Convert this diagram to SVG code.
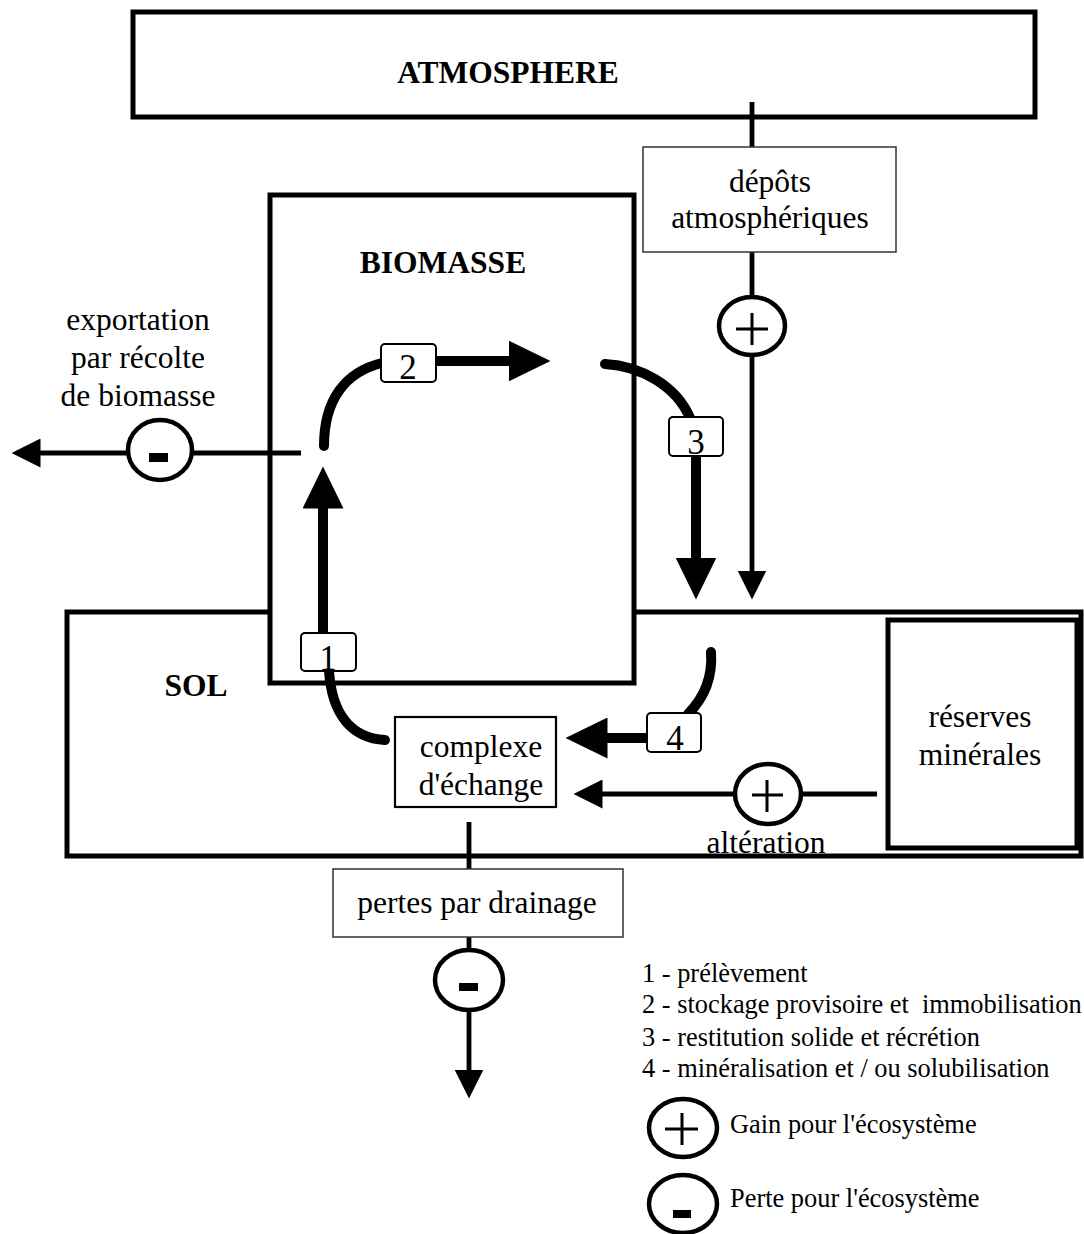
<svg xmlns="http://www.w3.org/2000/svg" width="1084" height="1234" viewBox="0 0 1084 1234">
<style>
.big{fill:#fff;stroke:#000;stroke-width:5}
.thinbox{fill:#fff;stroke:#333;stroke-width:1.5}
.cbox{fill:#fff;stroke:#000;stroke-width:2.2}
.num{fill:#fff;stroke:#000;stroke-width:2}
.circ{fill:#fff;stroke:#000;stroke-width:4.5}
.line{fill:none;stroke:#000;stroke-width:4.8}
.thick{fill:none;stroke:#000;stroke-width:10}
.curve{fill:none;stroke:#000;stroke-width:10;stroke-linecap:round}
.sign{fill:none;stroke:#000;stroke-width:3}
text{font-family:"Liberation Serif","Times New Roman",serif;fill:#000}
.t{font-size:31.5px;text-anchor:middle}
.b{font-size:31.5px;font-weight:bold;text-anchor:middle}
.d{font-size:35px;text-anchor:middle}
.l{font-size:26.4px;white-space:pre}
</style>
<defs>
<marker id="ah" markerUnits="userSpaceOnUse" viewBox="0 0 29 29" refX="0.5" refY="14.5" markerWidth="29" markerHeight="29" orient="auto"><path d="M0,0 L29,14.5 L0,29 z" fill="#000"/></marker>
<marker id="ahT" markerUnits="userSpaceOnUse" viewBox="0 0 42 41" refX="0.5" refY="20.5" markerWidth="42" markerHeight="41" orient="auto"><path d="M0,0 L42,20.5 L0,41 z" fill="#000"/></marker>
</defs>

<g id="atmosphere">
<rect class="big" x="133" y="12" width="902" height="105"/>
<text class="b" x="508" y="83">ATMOSPHERE</text>
</g>
<g id="sol">
<rect class="big" x="67" y="612" width="1014" height="244"/>
<text class="b" x="196" y="696">SOL</text>
</g>
<g id="biomasse">
<rect class="big" x="270" y="195" width="364" height="488"/>
<text class="b" x="443" y="273">BIOMASSE</text>
</g>
<g id="reserves">
<rect class="big" x="888" y="620" width="189" height="228"/>
<text class="t" x="980" y="727">réserves</text>
<text class="t" x="980" y="765">minérales</text>
</g>

<g id="connectors">
<path class="line" d="M301 453 L40 453" marker-end="url(#ah)"/>
<path class="line" d="M752 102 L752 571" marker-end="url(#ah)"/>
<path class="line" d="M877 794 L602 794" marker-end="url(#ah)"/>
<path class="line" d="M469 822 L469 1070" marker-end="url(#ah)"/>
<path class="thick" d="M323 640 L323 508" marker-end="url(#ahT)"/>
<path class="thick" d="M430 361 L509 361" marker-end="url(#ahT)"/>
<path class="thick" d="M696 450 L696 558" marker-end="url(#ahT)"/>
<path class="thick" d="M655 738 L607 738" marker-end="url(#ahT)"/>
<path class="curve" d="M329 671 C332 715 352 738 385 740"/>
<path class="curve" d="M324 446 C324 400 345 372 382 363"/>
<path class="curve" d="M605 364 C640 366 676 385 690 418"/>
<path class="curve" d="M711 652 C713 680 702 700 688 714"/>
</g>

<g id="depots">
<rect class="thinbox" x="643" y="147" width="253" height="105"/>
<text class="t" x="770" y="192">dépôts</text>
<text class="t" x="770" y="228">atmosphériques</text>
</g>
<g id="gain-depots">
<ellipse class="circ" cx="752" cy="326" rx="33" ry="29"/>
<path class="sign" d="M736 329 H768 M752 313 V345"/>
</g>
<g id="exportation">
<text class="t" x="138" y="330">exportation</text>
<text class="t" x="138" y="368">par récolte</text>
<text class="t" x="138" y="406">de biomasse</text>
<ellipse class="circ" cx="160" cy="450" rx="32" ry="30"/>
<rect x="149" y="453" width="19" height="9" fill="#000"/>
</g>
<g id="complexe">
<rect class="cbox" x="395" y="717" width="161" height="90"/>
<text class="t" x="481" y="757">complexe</text>
<text class="t" x="481" y="795">d'échange</text>
</g>
<g id="alteration">
<ellipse class="circ" cx="768" cy="794" rx="33" ry="30"/>
<path class="sign" d="M752 795 H783 M767 780 V812"/>
<text class="t" x="766" y="853">altération</text>
</g>
<g id="pertes">
<rect class="thinbox" x="333" y="869" width="290" height="68"/>
<text class="t" x="477" y="913">pertes par drainage</text>
</g>
<g id="perte-drainage">
<ellipse class="circ" cx="469" cy="980" rx="34" ry="30"/>
<rect x="459" y="983" width="19" height="8" fill="#000"/>
</g>
<g id="n1"><rect class="num" x="301" y="633" width="55" height="38" rx="4"/><text class="d" x="328" y="670">1</text></g>
<g id="n2"><rect class="num" x="381" y="344" width="55" height="38" rx="4"/><text class="d" x="408" y="379">2</text></g>
<g id="n3"><rect class="num" x="669" y="417" width="54" height="39" rx="4"/><text class="d" x="696" y="454">3</text></g>
<g id="n4"><rect class="num" x="647" y="713" width="54" height="39" rx="4"/><text class="d" x="675" y="750">4</text></g>

<g id="legend">
<text class="l" x="642" y="982">1 - prélèvement</text>
<text class="l" x="642" y="1013" xml:space="preserve">2 - stockage provisoire et  immobilisation</text>
<text class="l" x="642" y="1046">3 - restitution solide et récrétion</text>
<text class="l" x="642" y="1077">4 - minéralisation et / ou solubilisation</text>
<ellipse class="circ" cx="683" cy="1128" rx="34" ry="29"/>
<path class="sign" d="M665 1129 H698 M682 1113 V1145"/>
<text class="l" x="730" y="1133">Gain pour l'écosystème</text>
<ellipse class="circ" cx="683" cy="1204" rx="34" ry="29"/>
<rect x="673" y="1210" width="18" height="8" fill="#000"/>
<text class="l" x="730" y="1207">Perte pour l'écosystème</text>
</g>
</svg>
